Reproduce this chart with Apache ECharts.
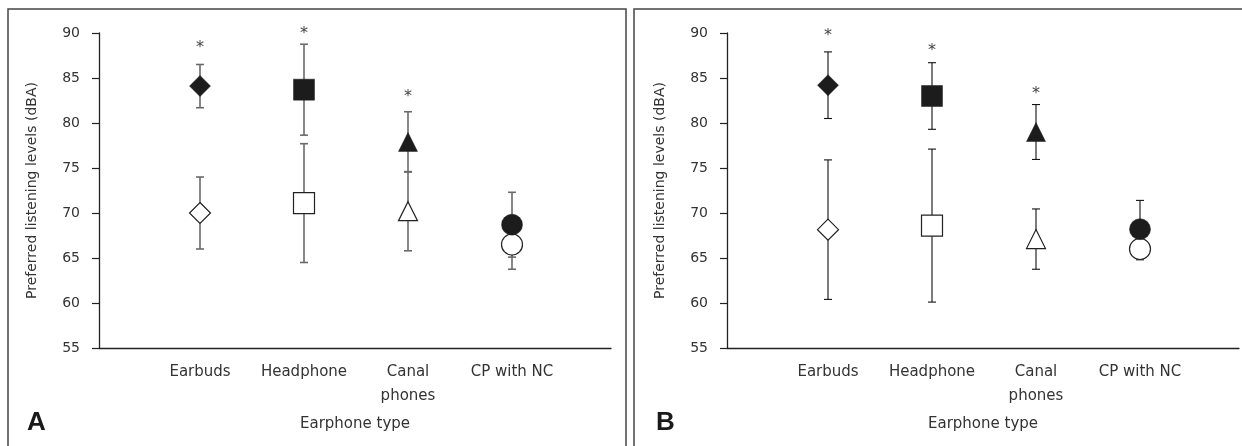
<!DOCTYPE html>
<html>
<head>
<meta charset="utf-8">
<script src="https://cdn.jsdelivr.net/npm/echarts@6/dist/echarts.min.js"></script>
<style>
html,body{margin:0;padding:0;background:#fff;}
#chart{width:1242px;height:446px;}
</style>
</head>
<body>
<div id="chart"></div>
<script>
// ---- data ----
const categories = ['Earbuds', 'Headphone', 'Canal\nphones', 'CP with NC'];
const yTicks = [55, 60, 65, 70, 75, 80, 85, 90];

// Panel A
const aFilledMean = [84.1, 83.7, 77.9, 68.7];
const aFilledErr  = [2.4, 5.05, 3.35, 3.6];
const aOpenMean   = [70.0, 71.1, 70.2, 66.5];
const aOpenErr    = [4.0, 6.6, 4.4, 2.75];
const aStarY      = [88.3, 89.9, 82.9];

// Panel B
const bFilledMean = [84.2, 83.0, 79.0, 68.2];
const bFilledErr  = [3.7, 3.7, 3.05, 3.2];
const bOpenMean   = [68.15, 68.6, 67.1, 66.0];
const bOpenErr    = [7.75, 8.5, 3.35, 1.2];
const bStarY      = [89.65, 88.0, 83.2];

// ---- styling ----
const shapes = ['diamond', 'rect', 'triangle', 'circle'];
const shapeSizes = [[21, 21], [21, 21], [19, 19], [21, 21]];
const FONT = 'DejaVu Sans';
const TXT = '#333';

const chart = echarts.init(document.getElementById('chart'), null, {renderer: 'canvas'});

function errSeries(gi, means, errs, color, lw) {
  return {
    type: 'custom', xAxisIndex: gi, yAxisIndex: gi, silent: true, z: 2,
    data: means.map((m, i) => [i + 1, m, errs[i]]),
    encode: {x: 0, y: 1},
    renderItem: function (params, api) {
      const x = api.value(0), m = api.value(1), e = api.value(2);
      const t = api.coord([x, m + e]);
      const b = api.coord([x, m - e]);
      const hw = 4;
      const st = {stroke: color, lineWidth: lw};
      return {type: 'group', children: [
        {type: 'line', shape: {x1: t[0], y1: t[1], x2: b[0], y2: b[1]}, style: st},
        {type: 'line', shape: {x1: t[0] - hw, y1: t[1], x2: t[0] + hw, y2: t[1]}, style: st},
        {type: 'line', shape: {x1: b[0] - hw, y1: b[1], x2: b[0] + hw, y2: b[1]}, style: st}
      ]};
    }
  };
}
function markerSeries(gi, means, filled) {
  return {
    type: 'scatter', xAxisIndex: gi, yAxisIndex: gi, silent: true, z: 2,
    data: means.map((m, i) => ({value: [i + 1, m], symbol: shapes[i], symbolSize: shapeSizes[i]})),
    itemStyle: filled ? {color: '#1c1c1c', borderColor: '#1c1c1c', borderWidth: 0.5, opacity: 1}
                      : {color: '#ffffff', borderColor: '#222', borderWidth: 1.2, opacity: 1}
  };
}
function starSeries(gi, ys) {
  return {
    type: 'custom', xAxisIndex: gi, yAxisIndex: gi, silent: true, z: 3,
    data: ys.map((y, i) => [i + 1, y]),
    encode: {x: 0, y: 1},
    renderItem: function (params, api) {
      const p = api.coord([api.value(0), api.value(1)]);
      return {type: 'text', x: p[0], y: p[1],
        style: {text: '*', fontSize: 16, fontFamily: FONT, fill: '#444', align: 'center', verticalAlign: 'middle'}};
    }
  };
}

const xMin = 1 - 101 / 104, xMax = xMin + 512 / 104;
function xAx(gi) {
  return {
    type: 'value', gridIndex: gi, min: xMin, max: xMax,
    axisLine: {show: true, lineStyle: {color: '#222', width: 1.3}},
    axisTick: {show: false}, splitLine: {show: false},
    axisLabel: {show: true, customValues: [1, 2, 3, 4], margin: 12,
      formatter: v => categories[Math.round(v) - 1] || '',
      color: TXT, fontSize: 15, fontFamily: FONT, lineHeight: 24},
    name: 'Earphone type', nameLocation: 'middle', nameGap: 69,
    nameTextStyle: {color: TXT, fontSize: 15, fontFamily: FONT}
  };
}
function yAx(gi) {
  return {
    type: 'value', gridIndex: gi, min: yTicks[0], max: yTicks[yTicks.length - 1], interval: 5,
    axisLine: {show: true, lineStyle: {color: '#222', width: 1.3}},
    axisTick: {show: true, inside: false, length: 7, lineStyle: {color: '#222', width: 1.2}},
    splitLine: {show: false},
    axisLabel: {color: TXT, fontSize: 14, fontFamily: FONT, margin: 19},
    name: 'Preferred listening levels (dBA)', nameLocation: 'middle', nameGap: 60,
    nameTextStyle: {color: TXT, fontSize: 14, fontFamily: FONT}
  };
}

chart.setOption({
  animation: false,
  backgroundColor: '#fff',
  grid: [
    {left: 99, top: 33, width: 512, height: 315},
    {left: 727, top: 33, width: 512, height: 315}
  ],
  xAxis: [xAx(0), xAx(1)],
  yAxis: [yAx(0), yAx(1)],
  graphic: [
    {type: 'rect', shape: {x: 8, y: 9, width: 618, height: 460}, style: {fill: 'none', stroke: '#444', lineWidth: 1.5}, silent: true},
    {type: 'rect', shape: {x: 634, y: 9, width: 640, height: 460}, style: {fill: 'none', stroke: '#444', lineWidth: 1.5}, silent: true},
    {type: 'text', left: 27, top: 410, style: {text: 'A', fontSize: 26, fontWeight: 'bold', fontFamily: 'Liberation Sans', fill: '#1a1a1a'}},
    {type: 'text', left: 656, top: 410, style: {text: 'B', fontSize: 26, fontWeight: 'bold', fontFamily: 'Liberation Sans', fill: '#1a1a1a'}}
  ],
  series: [
    errSeries(0, aFilledMean, aFilledErr, '#6a6a6a', 1.6),
    errSeries(0, aOpenMean, aOpenErr, '#6a6a6a', 1.6),
    markerSeries(0, aOpenMean, false),
    markerSeries(0, aFilledMean, true),
    starSeries(0, aStarY),
    markerSeries(1, bOpenMean, false),
    errSeries(1, bFilledMean, bFilledErr, '#111', 1.1),
    errSeries(1, bOpenMean, bOpenErr, '#111', 1.1),
    markerSeries(1, bFilledMean, true),
    starSeries(1, bStarY)
  ]
});
</script>
</body>
</html>
